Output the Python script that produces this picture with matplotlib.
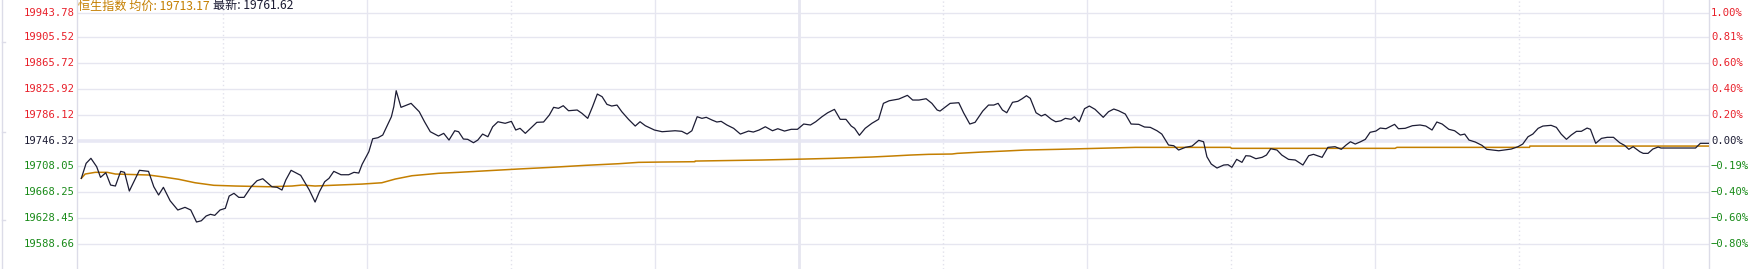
import matplotlib
matplotlib.use("Agg")
import matplotlib.pyplot as plt
import matplotlib.transforms as mtransforms
from matplotlib.lines import Line2D

# ---------------- data ----------------
price_minutes = [0.5, 1.5, 2.5, 3.7, 4.5, 5.6, 6.6, 7.6, 8.7, 9.5, 10.5, 12.6, 14.5, 15.6, 16.6, 17.6, 19.0,
                 20.6, 22.1, 23.3, 24.5, 25.5, 26.5, 27.4, 28.3, 29.4, 30.5, 31.3, 32.3, 33.3, 34.4, 35.9,
                 37.1, 38.3, 40.2, 41.3, 42.3, 43.1, 44.2, 46.2, 48.0, 49.2, 50.1, 51.2, 52.1, 53.1, 54.6,
                 56.2, 57.3, 58.3, 59.0, 60.4, 61.2, 62.3, 63.3, 65.1, 65.6, 66.1, 67.1, 69.2, 70.9, 72.0,
                 73.2, 74.9, 76.0, 77.1, 78.3, 79.1, 80.1, 81.0, 82.2, 83.1, 84.1, 85.2, 86.2, 87.3, 88.8,
                 90.1, 91.0, 91.9, 93.0, 95.4, 96.8, 98.0, 98.9, 99.9, 100.9, 102.0, 103.8, 104.8, 106.0,
                 107.0, 108.0, 109.0, 110.0, 111.0, 112.1, 113.1, 114.5, 115.9, 116.9, 118.0, 119.9, 121.5,
                 124.2, 125.6, 126.7, 127.7, 128.8, 129.8, 130.7, 131.9, 132.9, 133.8, 135.0, 136.4, 137.8,
                 139.5, 140.5, 141.7, 143.0, 144.5, 145.6, 147.0, 148.4, 149.7, 151.0, 152.4, 153.5, 154.8,
                 156.0, 157.4, 158.6, 159.8, 160.9, 161.6, 162.6, 163.8, 165.2, 166.6, 167.6, 168.8, 170.8,
                 172.6, 173.7, 175.0, 176.5, 177.7, 178.8, 179.4, 181.5, 183.3, 184.3, 185.6, 186.7, 188.3,
                 189.5, 190.6, 191.5, 192.4, 193.3, 194.5, 195.6, 196.5, 197.4, 198.2, 199.4, 200.5, 201.3,
                 202.6, 203.5, 204.6, 205.5, 206.7, 207.4, 208.4, 209.5, 210.5, 211.7, 213.4, 214.5, 215.6,
                 216.6, 218.0, 219.2, 220.8, 222.0, 223.2, 224.6, 225.6, 227.0, 228.1, 229.1, 230.5, 231.9,
                 233.3, 234.3, 235.0, 235.9, 237.1, 238.5, 239.4, 240.2, 241.2, 242.3, 243.1, 244.0, 245.2,
                 246.5, 247.4, 248.3, 249.6, 250.6, 252.0, 253.4, 255.0, 256.2, 257.2, 259.0, 260.2, 261.7,
                 263.0, 264.0, 264.9, 265.9, 267.0, 268.0, 269.0, 270.2, 271.1, 272.3, 274.1, 274.9, 276.3,
                 277.8, 279.4, 280.6, 281.9, 282.9, 284.0, 285.4, 286.6, 287.8, 288.7, 289.6, 290.9, 292.3,
                 293.3, 295.8, 298.4, 299.8, 300.8, 301.9, 302.9, 304.0, 305.0, 306.7, 307.8, 308.8, 309.9,
                 310.9, 312.0, 313.0, 314.2, 314.9, 316.0, 317.2, 318.4, 319.7, 321.0, 322.0, 322.9, 323.8,
                 325.2, 325.9, 326.9, 327.9, 329.0, 329.6, 331.4, 334.1, 336.8, 337.8, 339.7]

price_values = [19689.4, 19712.4, 19720.1, 19707.2, 19690.9, 19698.0, 19679.1, 19677.6, 19700.1, 19698.6,
                19669.9, 19701.7, 19700.1, 19676.5, 19663.8, 19675.6, 19655.0, 19640.8, 19644.9, 19640.8,
                19622.4, 19624.3, 19631.6, 19634.2, 19632.6, 19640.8, 19643.4, 19662.2, 19666.4, 19660.2,
                19660.2, 19676.5, 19685.7, 19688.8, 19676.5, 19675.6, 19671.4, 19686.8, 19701.7, 19694.0,
                19671.4, 19653.0, 19668.8, 19684.2, 19689.4, 19700.1, 19694.9, 19694.9, 19698.6, 19697.5,
                19710.9, 19730.2, 19750.1, 19751.7, 19755.8, 19783.9, 19799.2, 19823.8, 19798.3, 19804.4,
                19791.6, 19776.2, 19760.9, 19754.3, 19758.4, 19748.1, 19762.4, 19760.9, 19749.7, 19749.2,
                19744.0, 19748.1, 19757.3, 19753.2, 19768.5, 19776.2, 19773.8, 19776.8, 19763.5, 19766.1,
                19758.4, 19775.3, 19775.8, 19786.5, 19798.3, 19796.8, 19800.8, 19793.1, 19794.2, 19789.1,
                19781.4, 19799.2, 19818.7, 19814.6, 19802.9, 19800.3, 19801.8, 19791.6, 19779.9, 19769.6,
                19776.2, 19770.1, 19763.5, 19760.9, 19762.4, 19761.5, 19757.3, 19762.4, 19783.9, 19781.4,
                19783.0, 19778.8, 19775.8, 19776.8, 19771.2, 19766.1, 19757.3, 19761.9, 19760.4, 19763.5,
                19768.5, 19762.4, 19765.5, 19761.9, 19764.6, 19764.6, 19772.7, 19771.2, 19776.2, 19783.9,
                19790.0, 19795.2, 19779.9, 19779.9, 19769.6, 19766.1, 19755.4, 19766.1, 19773.8, 19779.9,
                19804.4, 19808.4, 19811.0, 19816.7, 19809.5, 19809.5, 19811.5, 19804.4, 19794.2, 19792.6,
                19804.4, 19805.4, 19790.0, 19772.7, 19775.3, 19792.6, 19801.8, 19801.8, 19804.4, 19794.2,
                19790.0, 19806.0, 19807.5, 19811.5, 19816.1, 19812.1, 19790.0, 19785.0, 19787.6, 19779.9,
                19776.2, 19777.7, 19781.4, 19779.9, 19783.9, 19776.2, 19796.2, 19800.3, 19795.2, 19783.0,
                19791.6, 19795.7, 19793.1, 19788.0, 19772.7, 19772.2, 19768.1, 19767.6, 19762.4, 19757.3,
                19740.5, 19739.4, 19732.8, 19736.9, 19738.9, 19747.7, 19745.5, 19722.5, 19711.3, 19705.2,
                19709.8, 19710.3, 19706.3, 19718.5, 19713.9, 19724.1, 19723.6, 19719.5, 19721.6, 19725.1,
                19734.8, 19732.8, 19725.1, 19718.5, 19717.5, 19709.8, 19724.1, 19726.2, 19721.6, 19736.9,
                19737.9, 19733.9, 19740.5, 19745.5, 19742.0, 19745.5, 19749.2, 19760.0, 19761.9, 19766.5,
                19765.5, 19772.2, 19765.5, 19766.1, 19770.1, 19771.2, 19769.6, 19763.5, 19775.8, 19772.7,
                19764.6, 19762.4, 19755.8, 19757.3, 19748.1, 19745.1, 19740.0, 19733.9, 19731.7, 19734.3,
                19737.9, 19742.0, 19753.2, 19757.3, 19766.1, 19769.6, 19770.7, 19767.6, 19757.3, 19749.2,
                19755.8, 19761.5, 19761.5, 19766.5, 19764.6, 19743.1, 19750.7, 19752.3, 19752.3, 19744.0,
                19740.0, 19733.9, 19737.9, 19730.2, 19727.7, 19727.7, 19734.3, 19737.4, 19735.9, 19735.9,
                19735.9, 19735.9, 19743.1, 19743.1]

avg_minutes = [0.5, 1.3, 3.4, 5.9, 7.6, 14.5, 17.3, 20.8, 24.2, 28.1, 32.6, 39.5, 44.4, 46.5, 49.2, 52.7,
               59.0, 63.1, 65.9, 69.4, 74.9, 79.1, 84.0, 91.6, 98.5, 105.5, 112.4, 116.6, 121.5, 128.3,
               128.4, 142.3, 151.3, 157.2, 165.2, 169.4, 173.2, 177.0, 181.9, 183.0, 188.1, 193.0, 197.1,
               204.1, 212.1, 220.1, 239.9, 240.1, 274.2, 274.6, 302.2, 302.3, 339.7]
avg_values = [19689.4, 19696.0, 19698.6, 19698.6, 19696.0, 19694.5, 19691.8, 19687.9, 19682.6, 19678.7,
              19677.6, 19676.5, 19677.6, 19679.1, 19677.6, 19678.7, 19680.6, 19682.6, 19688.3, 19693.4,
              19697.1, 19698.6, 19700.6, 19703.7, 19706.3, 19709.3, 19711.8, 19713.9, 19714.4, 19714.9,
              19715.9, 19717.5, 19719.0, 19720.1, 19722.1, 19723.6, 19725.1, 19726.2, 19726.7, 19727.7,
              19729.7, 19731.3, 19732.8, 19733.9, 19735.4, 19736.9, 19736.9, 19735.4, 19735.4, 19736.9,
              19736.9, 19738.9, 19738.9]

left_labels = ["19943.78", "19905.52", "19865.72", "19825.92", "19786.12",
               "19746.32", "19708.05", "19668.25", "19628.45", "19588.66"]
left_values = [19943.78, 19905.52, 19865.72, 19825.92, 19786.12,
               19746.32, 19708.05, 19668.25, 19628.45, 19588.66]
right_labels = ["1.00%", "0.81%", "0.60%", "0.40%", "0.20%",
                "0.00%", "\u22120.19%", "\u22120.40%", "\u22120.60%", "\u22120.80%"]
v_grid_minutes = [30, 60, 90, 120, 150, 180, 210, 240, 270, 300, 330]
v_grid_styles = ["dot", "solid", "dot", "solid", "mid", "dot", "solid", "dot", "solid", "dot", "solid"]

title_name = "恒生指数 均价: 19713.17"
title_last = "最新: 19761.62"

# ---------------- style ----------------
W, H, DPI = 1764, 269, 100
RED = "#e8202a"
GREEN = "#188a18"
DARK = "#1c1c34"
ORANGE = "#c47f00"
GRID = "#e6e6f0"

fig = plt.figure(figsize=(W / DPI, H / DPI), dpi=DPI, facecolor="white")
x0, x1 = 77, 1709
ax = fig.add_axes([x0 / W, 0, (x1 - x0) / W, 1])
ax.set_facecolor("white")

# y scale from label positions: 19943.78 at px 12.5, 19588.66 at px 244
slope = (19943.78 - 19588.66) / (244 - 12.5)
y_top = 19943.78 + 12.5 * slope
y_bot = 19588.66 - (H - 244) * slope
ax.set_ylim(y_bot, y_top)
ax.set_xlim(-0.4, (x1 - x0) / 4.8 - 0.4)

for s in ["top", "bottom"]:
    ax.spines[s].set_visible(False)
for s in ["left", "right"]:
    ax.spines[s].set_color("#dcdce8")
    ax.spines[s].set_linewidth(1.0)
ax.set_xticks([])
ax.set_yticks([])

# horizontal grid
for v, lab in zip(left_values, left_labels):
    if lab == "19746.32":
        ax.axhline(v, color="#e8e8f4", lw=2.6, zorder=0.5)
    else:
        ax.axhline(v, color=GRID, lw=1.0, zorder=0.5)

# vertical grid
for m, st in zip(v_grid_minutes, v_grid_styles):
    if st == "dot":
        ax.axvline(m, color="#e2e2ec", lw=1.0, ls=(0, (1, 2)), zorder=0.5)
    elif st == "mid":
        ax.axvline(m, color="#e6e6f0", lw=2.0, zorder=0.5)
    else:
        ax.axvline(m, color=GRID, lw=1.0, zorder=0.5)

# lines
ax.plot(avg_minutes, avg_values, color=ORANGE, lw=1.1, zorder=3, solid_joinstyle="miter")
ax.plot(price_minutes, price_values, color=DARK, lw=0.9, zorder=4)

# axis labels
tl = mtransforms.blended_transform_factory(fig.transFigure, ax.transData)
for v, lab in zip(left_values, left_labels):
    c = RED if v > 19746.32 else (DARK if lab == "19746.32" else GREEN)
    fig.text(74.5 / W, v, lab, transform=tl, ha="right", va="center", color=c,
             family="DejaVu Sans Mono", fontsize=7.6)
for v, lab in zip(left_values, right_labels):
    c = RED if v > 19746.32 else (DARK if lab == "0.00%" else GREEN)
    fig.text(1711 / W, v, lab, transform=tl, ha="left", va="center", color=c,
             family="DejaVu Sans Mono", fontsize=7.6)

# title
t1 = fig.text(78 / W, 1 - 9.5 / H, title_name, color=ORANGE, ha="left", va="baseline",
              family=["Noto Sans CJK SC", "DejaVu Sans"], fontsize=8.7)
fig.canvas.draw()
bb = t1.get_window_extent()
fig.text((bb.x1 + 3) / W, 1 - 9.5 / H, title_last, color=DARK, ha="left", va="baseline",
         family=["Noto Sans CJK SC", "DejaVu Sans"], fontsize=8.7)

# far-left frame line with small ticks
fig.add_artist(Line2D([1.5 / W, 1.5 / W], [0, 1], transform=fig.transFigure, color="#dcdce8", lw=1.0))
for py in [42, 132, 220]:
    fig.add_artist(Line2D([1.5 / W, 5 / W], [1 - py / H, 1 - py / H], transform=fig.transFigure,
                          color="#dcdce8", lw=1.0))

fig.savefig("out.png", dpi=DPI, facecolor="white")
